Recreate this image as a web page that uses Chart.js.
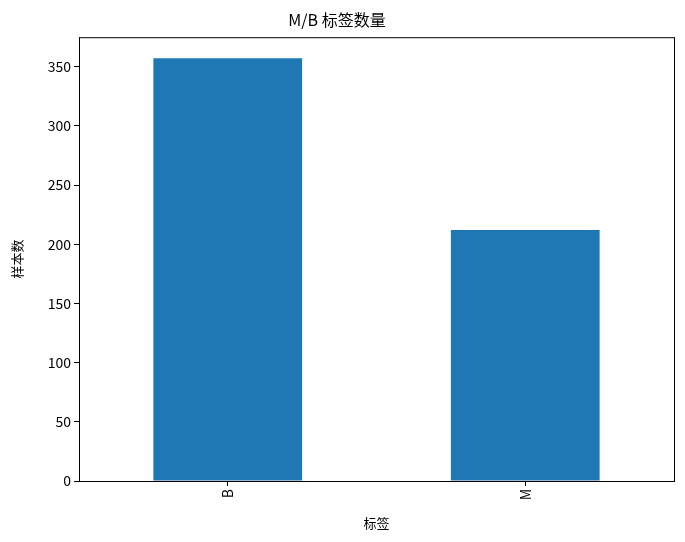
<!DOCTYPE html>
<html>
  <head>
    <title>M/B 标签数量</title>
    <script src="https://cdn.jsdelivr.net/npm/chart.js"></script>
    <style>
      body { margin: 0; background: #fff; }
      #wrap { width: 685px; height: 542px; }
    </style>
  </head>
  <body>
    <div id="wrap"><canvas id="labelChart" width="685" height="542"></canvas></div>

    <script>
      const labels = ["B", "M"];
      const counts = [357, 212];
      const yTicks = [0, 50, 100, 150, 200, 250, 300, 350];

      const font = "'Noto Sans CJK SC', 'Noto Sans CJK JP', sans-serif";

      // draws the top and right spines like matplotlib
      const frame = {
        id: "frame",
        afterDraw(chart) {
          const { ctx, chartArea: a } = chart;
          ctx.save();
          ctx.strokeStyle = "#000";
          ctx.lineWidth = 1;
          ctx.strokeRect(a.left + 0.5, a.top + 0.5, a.right - a.left, a.bottom - a.top);
          ctx.restore();
        },
      };

      const ctx = document.getElementById("labelChart").getContext("2d");
      new Chart(ctx, {
        type: "bar",
        data: {
          labels: labels,
          datasets: [
            {
              data: counts,
              backgroundColor: "#1f77b4",
              borderWidth: 0,
              barPercentage: 0.5,
              categoryPercentage: 1,
            },
          ],
        },
        options: {
          responsive: false,
          animation: false,
          layout: { padding: { left: 0, right: 11, top: 0, bottom: 11 } },
          plugins: {
            legend: { display: false },
            tooltip: { enabled: false },
            title: {
              display: true,
              text: "M/B 标签数量",
              color: "#000",
              font: { family: font, size: 16, weight: "normal" },
              padding: { top: 10, bottom: 8 },
            },
          },
          scales: {
            x: {
              grid: { display: true, offset: false, drawOnChartArea: false, drawTicks: true, tickLength: 5, color: "#000" },
              border: { display: true, color: "#000" },
              ticks: { color: "#000", minRotation: 90, maxRotation: 90, font: { family: font, size: 14 } },
              title: { display: true, text: "标签", color: "#000", font: { family: font, size: 13 }, padding: { top: 2, bottom: 0 } },
              afterFit(scale) { scale.height = 50; },
            },
            y: {
              min: 0,
              max: 374.85,
              afterBuildTicks(scale) {
                scale.ticks = yTicks.map((v) => ({ value: v }));
              },
              grid: { display: true, drawOnChartArea: false, drawTicks: true, tickLength: 5, color: "#000" },
              border: { display: true, color: "#000" },
              ticks: { color: "#000", font: { family: font, size: 14 } },
              title: { display: true, text: "样本数", color: "#000", font: { family: font, size: 13 }, padding: { top: 9, bottom: 4 } },
              afterFit(scale) { scale.width = 79; },
            },
          },
        },
        plugins: [frame],
      });
    </script>
  </body>
</html>
